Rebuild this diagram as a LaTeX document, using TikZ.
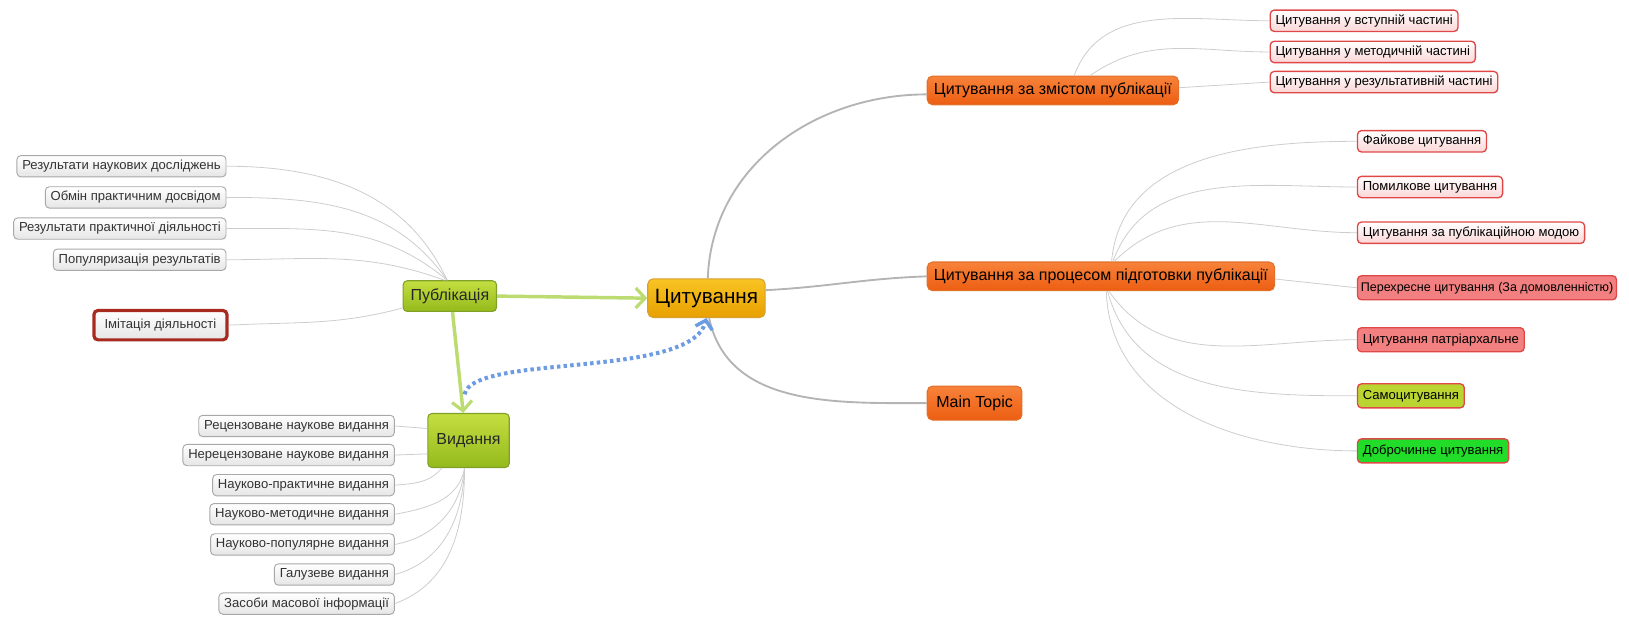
\documentclass[tikz,border=0pt]{standalone}
\usepackage{fontspec}
\setmainfont{Liberation Sans}
\usetikzlibrary{arrows.meta}
\definecolor{leafline}{HTML}{A8A8A8}
\definecolor{leaftxt}{HTML}{333333}
\definecolor{redline}{HTML}{E04848}
\definecolor{pinkfill}{HTML}{FBD6D6}
\definecolor{salmon}{HTML}{F28080}
\definecolor{darkred}{HTML}{A82A1E}
\definecolor{olivetop}{HTML}{C4DE40}
\definecolor{olivebot}{HTML}{94BA1C}
\definecolor{oliveline}{HTML}{80A028}
\definecolor{goldtop}{HTML}{F8C424}
\definecolor{goldbot}{HTML}{E8A000}
\definecolor{goldline}{HTML}{D4A030}
\definecolor{orangetop}{HTML}{F8823A}
\definecolor{orangebot}{HTML}{EC5E12}
\definecolor{orangeline}{HTML}{E0702A}
\definecolor{limefill}{HTML}{BAD432}
\definecolor{greenfill}{HTML}{22DC2A}
\definecolor{arrowgreen}{HTML}{BCDC72}
\definecolor{dotblue}{HTML}{6E9CE2}
\definecolor{branchgray}{HTML}{CDCDCD}
\definecolor{stemgray}{HTML}{B4B4B4}
\tikzset{
  leaf/.style={draw=leafline, top color=white, bottom color=black!10, rounded corners=3pt,
    text=leaftxt, font=\fontsize{9.8}{12}\selectfont, inner xsep=4pt, minimum height=16pt, line width=0.7pt},
  redleaf/.style={leaf, draw=redline, top color=white, bottom color=pinkfill, text=black, line width=1pt},
  imitleaf/.style={leaf, draw=darkred, line width=2.4pt, minimum height=22pt, inner xsep=8pt},
  sidetopic/.style={draw=oliveline, top color=olivetop, bottom color=olivebot, rounded corners=3pt,
    font=\fontsize{12}{14}\selectfont, text=black!85, line width=0.8pt},
  roottopic/.style={draw=goldline, top color=goldtop, bottom color=goldbot, rounded corners=4pt,
    font=\fontsize{15.5}{18}\selectfont, text=black, minimum width=88pt, minimum height=29pt, line width=0.8pt},
  maintopic/.style={draw=orangeline, top color=orangetop, bottom color=orangebot, rounded corners=4pt,
    font=\fontsize{12}{14}\selectfont, text=black, minimum height=21.5pt, inner xsep=5pt, line width=0.8pt},
  branch/.style={draw=branchgray, line width=0.6pt},
  stem/.style={draw=stemgray, line width=1.4pt},
  greenarrow/.style={draw=arrowgreen, line width=2.6pt, -{Straight Barb[length=7pt,width=15pt,line width=2.4pt]}},
  dotarrow/.style={draw=dotblue, line width=3pt, dash pattern=on 2.6pt off 2.4pt,
    -{Straight Barb[length=6pt,width=13pt,line width=2.6pt]}}
}
\begin{document}
\begin{tikzpicture}[x=0.779pt, y=0.779pt]
  \useasboundingbox (0,0) rectangle (1568,-593);

  \node[roottopic] (cyt) at (680,-287) {Цитування};
  \node[sidetopic, minimum width=70pt, minimum height=23pt] (pub) at (433,-285) {Публікація};
  \node[sidetopic, minimum width=61pt, minimum height=40.5pt] (vyd) at (451,-424) {Видання};

  \node[maintopic, anchor=west] (zmist) at (892,-87) {Цитування за змістом публікації};
  \node[maintopic, anchor=west] (proc) at (892,-266) {Цитування за процесом підготовки публікації};
  \node[maintopic, anchor=west, minimum height=25.5pt, minimum width=71pt] (mtop) at (892,-388) {Main Topic};

  \node[leaf, anchor=east] (pr1) at (218,-160) {Результати наукових досліджень};
  \node[leaf, anchor=east] (pr2) at (218,-190) {Обмін практичним досвідом};
  \node[leaf, anchor=east] (pr3) at (218,-220) {Результати практичної діяльності};
  \node[leaf, anchor=east] (pr4) at (218,-250) {Популяризація результатів};
  \node[imitleaf, anchor=east] (imit) at (220,-313) {Імітація діяльності};

  \node[leaf, anchor=east] (vr1) at (380,-410) {Рецензоване наукове видання};
  \node[leaf, anchor=east] (vr2) at (380,-438) {Нерецензоване наукове видання};
  \node[leaf, anchor=east] (vr3) at (380,-467) {Науково-практичне видання};
  \node[leaf, anchor=east] (vr4) at (380,-495) {Науково-методичне видання};
  \node[leaf, anchor=east] (vr5) at (380,-524) {Науково-популярне видання};
  \node[leaf, anchor=east] (vr6) at (380,-553) {Галузеве видання};
  \node[leaf, anchor=east] (vr7) at (380,-581) {Засоби масової інформації};

  \node[redleaf, anchor=west] (zm1) at (1222,-20) {Цитування у вступній частині};
  \node[redleaf, anchor=west] (zm2) at (1222,-50) {Цитування у методичній частині};
  \node[redleaf, anchor=west] (zm3) at (1222,-79) {Цитування у результативній частині};

  \node[redleaf, anchor=west] (pc1) at (1306,-136) {Файкове цитування};
  \node[redleaf, anchor=west] (pc2) at (1306,-180) {Помилкове цитування};
  \node[redleaf, anchor=west] (pc3) at (1306,-224) {Цитування за публікаційною модою};
  \node[redleaf, anchor=west, top color=salmon, bottom color=salmon, minimum height=18pt,
    inner xsep=2.5pt, font=\fontsize{9.4}{12}\selectfont] (pc4) at (1306,-277) {Перехресне цитування (За домовленністю)};
  \node[redleaf, anchor=west, top color=salmon, bottom color=salmon, minimum height=18pt] (pc5) at (1306,-327) {Цитування патріархальне};
  \node[redleaf, anchor=west, top color=limefill, bottom color=limefill, minimum height=18pt] (pc6) at (1306,-381) {Самоцитування};
  \node[redleaf, anchor=west, top color=greenfill, bottom color=greenfill, minimum height=18pt] (pc7) at (1306,-434) {Доброчинне цитування};

  \draw[branch] (pr1.east) to[out=0,in=115] ([xshift=-2pt]pub.north);
  \draw[branch] (pr2.east) to[out=0,in=125] ([xshift=-2pt]pub.north);
  \draw[branch] (pr3.east) to[out=0,in=140] ([xshift=-2pt]pub.north);
  \draw[branch] (pr4.east) to[out=0,in=160] ([xshift=-4pt]pub.north);
  \draw[branch] (imit.east) to[out=3,in=195] ([yshift=3pt]pub.south west);

  \draw[branch] (vr1.east) -- ([yshift=9pt]vyd.west);
  \draw[branch] (vr2.east) -- ([yshift=-10pt]vyd.west);
  \draw[branch] (vr3.east) to[out=5,in=-130] ([xshift=-20pt]vyd.south);
  \draw[branch] (vr4.east) to[out=10,in=-100] ([xshift=-3pt]vyd.south);
  \draw[branch] (vr5.east) to[out=10,in=-95] ([xshift=-3pt]vyd.south);
  \draw[branch] (vr6.east) to[out=15,in=-92] ([xshift=-3pt]vyd.south);
  \draw[branch] (vr7.east) to[out=20,in=-90] ([xshift=-3pt]vyd.south);

  \draw[branch] ([xshift=16pt]zmist.north) to[out=70,in=180] (zm1.west);
  \draw[branch] ([xshift=28pt]zmist.north) to[out=35,in=180] (zm2.west);
  \draw[branch] ([yshift=2pt]zmist.east) -- (zm3.west);

  \draw[branch] ([xshift=8pt]proc.north) to[out=85,in=180] (pc1.west);
  \draw[branch] ([xshift=9pt]proc.north) to[out=70,in=180] (pc2.west);
  \draw[branch] ([xshift=10pt]proc.north) to[out=45,in=180] (pc3.west);
  \draw[branch] ([yshift=-2pt]proc.east) -- (pc4.west);
  \draw[branch] ([xshift=6pt]proc.south) to[out=-55,in=180] (pc5.west);
  \draw[branch] ([xshift=5pt]proc.south) to[out=-75,in=180] (pc6.west);
  \draw[branch] ([xshift=4pt]proc.south) to[out=-88,in=180] (pc7.west);

  \draw[stem] ([xshift=1pt]cyt.north) to[out=88,in=180] ([yshift=-3pt]zmist.west);
  \draw[stem] ([yshift=6pt]cyt.east) to[out=3,in=182] (proc.west);
  \draw[stem] ([xshift=2pt]cyt.south) to[out=-78,in=180] (mtop.west);

  \draw[greenarrow] (pub.east) -- (cyt.west);
  \draw[greenarrow] ([xshift=2pt]pub.south) -- ([xshift=-4pt]vyd.north);
  \draw[dotarrow] ([xshift=-3pt,yshift=14pt]vyd.north) .. controls (455,-340) and (665,-365) .. (cyt.south);
\end{tikzpicture}
\end{document}
